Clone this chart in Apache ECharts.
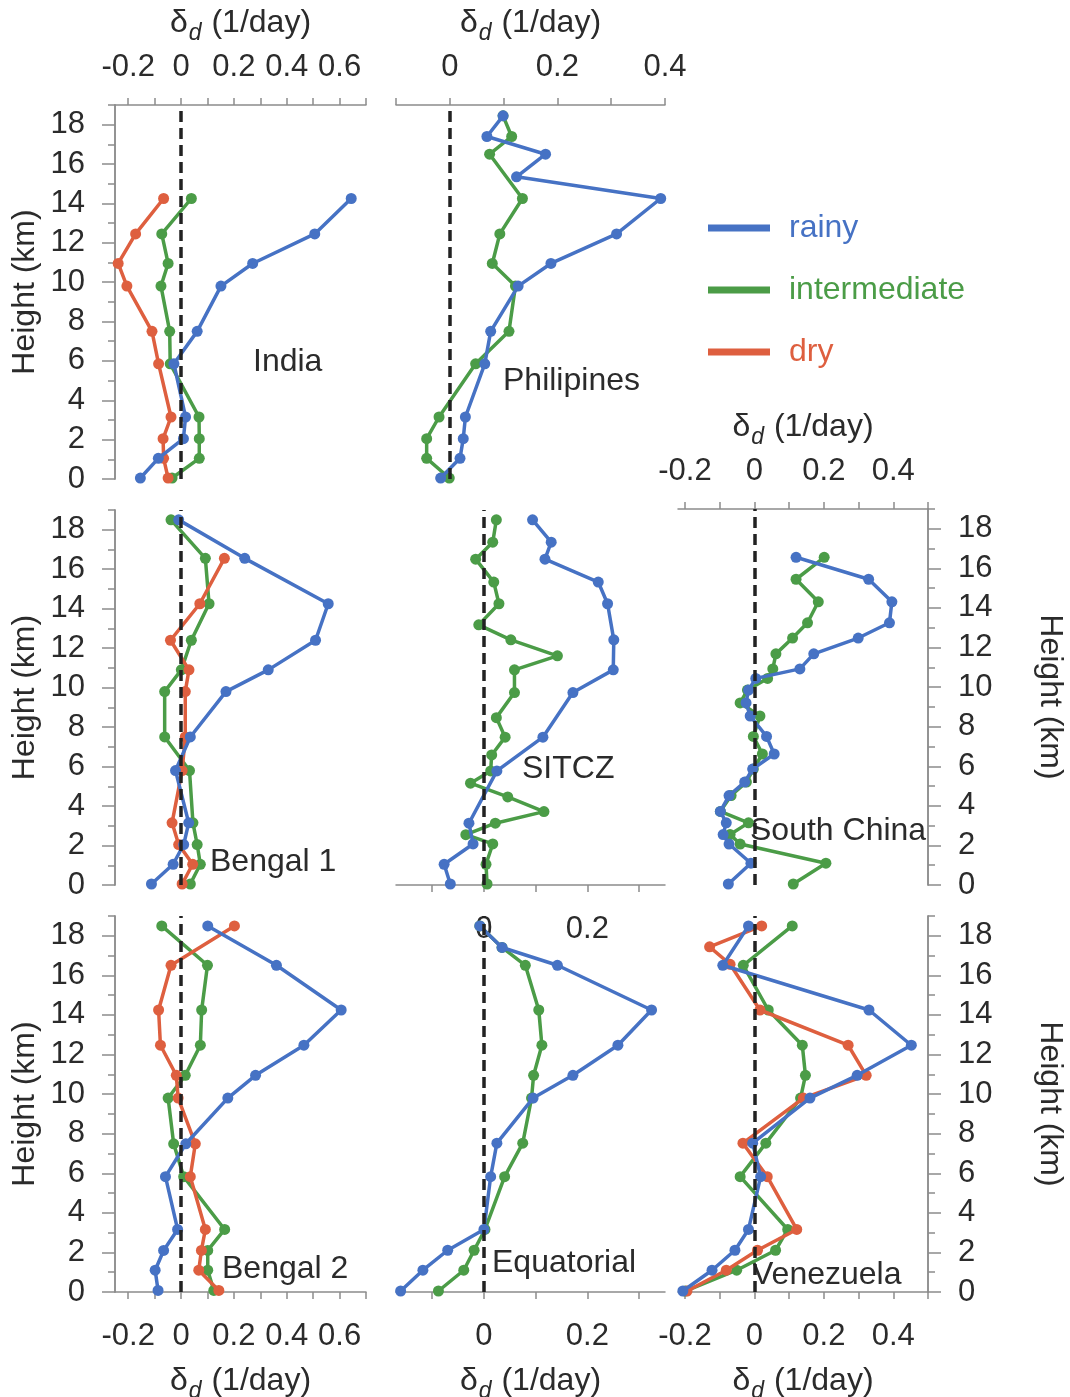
<!DOCTYPE html>
<html>
<head>
<meta charset="utf-8">
<script src="https://cdn.jsdelivr.net/npm/echarts@6/dist/echarts.min.js"></script>
<style>
  html, body { margin: 0; padding: 0; background: #fff; }
  #main { width: 1070px; height: 1397px; }
</style>
</head>
<body>
<div id="main"></div>
<script>
  // ---- data: heights in km, delta_d in 1/day ----
  const indiaH       = [0.05, 1.05, 2.05, 3.15, 5.85, 7.5, 9.8, 10.95, 12.45, 14.25];
  const indiaRainy   = [-0.154, -0.086, 0.009, 0.017, -0.027, 0.061, 0.151, 0.271, 0.506, 0.644];
  const indiaInter   = [-0.034, 0.069, 0.069, 0.068, -0.041, -0.043, -0.076, -0.049, -0.073, 0.039];
  const indiaDry     = [-0.049, -0.066, -0.068, -0.038, -0.085, -0.11, -0.205, -0.238, -0.172, -0.066];

  const philRainyH   = [0.05, 1.05, 2.05, 3.15, 5.85, 7.5, 9.8, 10.95, 12.45, 14.25, 15.35, 16.5, 17.4, 18.45];
  const philRainy    = [-0.017, 0.019, 0.025, 0.029, 0.065, 0.076, 0.127, 0.188, 0.31, 0.392, 0.124, 0.178, 0.069, 0.099];
  const philInterH   = [0.05, 1.05, 2.05, 3.15, 5.85, 7.5, 9.8, 10.95, 12.45, 14.25, 16.5, 17.4, 18.45];
  const philInter    = [-0.001, -0.043, -0.043, -0.02, 0.048, 0.11, 0.122, 0.079, 0.093, 0.135, 0.074, 0.115, 0.099];

  const beng1H       = [0.05, 1.05, 2.05, 3.15, 5.8, 7.5, 9.8, 10.9, 12.4, 14.25, 16.55, 18.5];
  const beng1Rainy   = [-0.112, -0.03, 0.01, 0.029, -0.021, 0.035, 0.17, 0.33, 0.509, 0.557, 0.241, -0.009];
  const beng1Inter   = [0.035, 0.073, 0.061, 0.045, 0.032, -0.062, -0.062, 0.001, 0.039, 0.106, 0.092, -0.038];
  const beng1DryH    = [0.05, 1.05, 2.05, 3.15, 5.8, 7.5, 9.8, 10.9, 12.4, 14.25, 16.55];
  const beng1Dry     = [0.004, 0.044, -0.009, -0.034, 0.004, 0.016, 0.016, 0.03, -0.04, 0.071, 0.164];

  const sitczRainyH  = [0.05, 1.05, 2.08, 3.13, 5.78, 7.49, 9.75, 10.9, 12.42, 14.25, 15.35, 16.51, 17.37, 18.5];
  const sitczRainy   = [-0.065, -0.077, -0.021, -0.029, 0.025, 0.114, 0.172, 0.25, 0.251, 0.239, 0.221, 0.118, 0.13, 0.094];
  const sitczInterH  = [0.05, 1.05, 2.08, 2.55, 3.13, 3.72, 4.46, 5.16, 5.78, 6.59, 7.49, 8.48, 9.75, 10.9, 11.61, 12.42, 13.18, 14.25, 15.35, 16.51, 17.37, 18.5];
  const sitczInter   = [0.006, 0.004, 0.017, -0.035, 0.022, 0.116, 0.046, -0.026, 0.013, 0.015, 0.041, 0.024, 0.059, 0.059, 0.142, 0.052, -0.01, 0.029, 0.019, -0.016, 0.017, 0.024];

  const schinaH      = [0.05, 1.1, 2.07, 2.55, 3.14, 3.72, 4.52, 5.2, 5.86, 6.62, 7.51, 8.54, 9.2, 9.85, 10.44, 10.92, 11.68, 12.48, 13.25, 14.31, 15.45, 16.56];
  const schinaRainy  = [-0.075, -0.01, -0.073, -0.09, -0.081, -0.098, -0.073, -0.028, -0.005, 0.057, 0.035, -0.012, -0.024, -0.017, 0.004, 0.131, 0.171, 0.299, 0.389, 0.396, 0.329, 0.12];
  const schinaInter  = [0.112, 0.206, -0.041, -0.07, -0.017, -0.098, -0.067, -0.023, -0.003, 0.023, -0.003, 0.016, -0.041, -0.02, 0.038, 0.053, 0.062, 0.11, 0.153, 0.184, 0.12, 0.201];

  const beng2H       = [0.08, 1.1, 2.1, 3.16, 5.83, 7.49, 9.8, 10.95, 12.47, 14.25, 16.51, 18.5];
  const beng2Rainy   = [-0.087, -0.098, -0.066, -0.013, -0.059, 0.018, 0.177, 0.282, 0.465, 0.606, 0.361, 0.101];
  const beng2Inter   = [0.124, 0.101, 0.101, 0.165, 0.01, -0.028, -0.049, 0.016, 0.073, 0.078, 0.1, -0.073];
  const beng2Dry     = [0.143, 0.067, 0.077, 0.092, 0.035, 0.054, -0.011, -0.018, -0.078, -0.085, -0.038, 0.202];

  const equatH       = [0.05, 1.1, 2.11, 3.16, 5.83, 7.52, 9.8, 10.95, 12.47, 14.25, 16.51, 17.41, 18.5];
  const equatRainy   = [-0.161, -0.118, -0.07, 0.0, 0.013, 0.025, 0.095, 0.172, 0.259, 0.324, 0.142, 0.035, -0.008];
  const equatInter   = [-0.088, -0.039, -0.019, 0.002, 0.04, 0.075, 0.092, 0.096, 0.112, 0.106, 0.08, 0.035, -0.008];

  const venezH       = [0.05, 1.1, 2.11, 3.16, 5.83, 7.52, 9.8, 10.95, 12.47, 14.25, 16.51, 18.5];
  const venezRainy   = [-0.206, -0.122, -0.056, -0.017, 0.018, -0.005, 0.16, 0.296, 0.452, 0.33, -0.091, -0.017];
  const venezInter   = [-0.199, -0.051, 0.061, 0.096, -0.041, 0.033, 0.133, 0.147, 0.138, 0.04, -0.032, 0.109];
  const venezDryH    = [0.05, 1.1, 2.11, 3.16, 5.83, 7.52, 9.8, 10.95, 12.47, 14.25, 16.56, 17.44, 18.5];
  const venezDry     = [-0.194, -0.081, 0.009, 0.122, 0.037, -0.033, 0.141, 0.322, 0.27, 0.016, -0.07, -0.129, 0.021];

  // tick values / labels
  const yMajor = [0, 2, 4, 6, 8, 10, 12, 14, 16, 18];
  const yMinor = [1, 3, 5, 7, 9, 11, 13, 15, 17, 19];
  const xTicksWide  = [-0.2, -0.1, 0, 0.1, 0.2, 0.3, 0.4, 0.5, 0.6, 0.7];
  const xLabelsWide = [-0.2, 0, 0.2, 0.4, 0.6];
  const xTicksPhil  = [-0.1, 0, 0.1, 0.2, 0.3, 0.4];
  const xLabelsPhil = [0, 0.2, 0.4];
  const xTicksMid   = [-0.1, 0, 0.1, 0.2, 0.3];
  const xLabelsMid  = [0, 0.2];
  const xTicksRight  = [-0.2, -0.1, 0, 0.1, 0.2, 0.3, 0.4, 0.5];
  const xLabelsRight = [-0.2, 0, 0.2, 0.4];

  // ---- styling ----
  const FONT = '"Liberation Sans", Arial, Helvetica, sans-serif';
  const TXT = '#2b2b2b';
  const AX = '#8c8c8c';
  const COL = {rainy: '#4672C4', intermediate: '#4B9C47', dry: '#DE5F3F'};

  const deltaName = '{g|δ}{s|d}{t| (1/day)}';
  const deltaStyle = {
    fontFamily: FONT, color: TXT, fontSize: 32,
    rich: {
      g: {fontSize: 32, fontFamily: FONT, color: TXT},
      s: {fontSize: 23, fontStyle: 'italic', fontFamily: FONT, color: TXT, padding: [20, 1, 0, 1]},
      t: {fontSize: 32, fontFamily: FONT, color: TXT}
    }
  };

  const grids = [
    {left: 115, top: 105, width: 251, height: 374},  // India
    {left: 396, top: 105, width: 269, height: 374},  // Philipines
    {left: 115, top: 510, width: 251, height: 375},  // Bengal 1
    {left: 396, top: 510, width: 269, height: 375},  // SITCZ
    {left: 678, top: 509, width: 250, height: 376},  // South China
    {left: 115, top: 916, width: 251, height: 376},  // Bengal 2
    {left: 396, top: 916, width: 269, height: 376},  // Equatorial
    {left: 678, top: 916, width: 250, height: 376}   // Venezuela
  ].map(g => Object.assign({outerBoundsMode: 'none', containLabel: false}, g));

  const xAxes = [];
  const yAxes = [];

  function addX(gi, min, max, o) {
    const top = o.pos === 'top';
    xAxes.push({
      type: 'value', gridIndex: gi, min: min, max: max,
      show: o.show !== false,
      position: o.pos || 'bottom',
      axisLine: {show: true, onZero: false, lineStyle: {color: AX, width: 1.5}},
      axisTick: {show: true, length: 7, customValues: o.ticks, lineStyle: {color: AX, width: 1.5}},
      axisLabel: {show: !!o.labels, customValues: o.labels, margin: top ? 22 : 29, fontSize: 31, color: TXT, fontFamily: FONT},
      splitLine: {show: false},
      name: o.name ? deltaName : '',
      nameLocation: 'middle',
      nameGap: top ? 60 : 68,
      nameTextStyle: deltaStyle
    });
    return xAxes.length - 1;
  }

  function addY(gi, o) {
    const base = {
      type: 'value', gridIndex: gi, min: 0, max: 19,
      show: o.show !== false,
      position: o.pos || 'left',
      splitLine: {show: false},
      axisLine: {show: true, onZero: false, lineStyle: {color: AX, width: 1.5}}
    };
    yAxes.push(Object.assign({}, base, {
      axisTick: {show: true, length: 13, customValues: yMajor, lineStyle: {color: AX, width: 1.5}},
      axisLabel: {show: true, customValues: yMajor, margin: 30, fontSize: 31, color: TXT, fontFamily: FONT},
      name: o.show === false ? '' : 'Height (km)',
      nameLocation: 'middle',
      nameGap: o.pos === 'right' ? 106 : 74,
      nameRotate: o.pos === 'right' ? -90 : 90,
      nameTextStyle: {fontSize: 32, color: TXT, fontFamily: FONT}
    }));
    const major = yAxes.length - 1;
    if (o.show !== false) {
      yAxes.push(Object.assign({}, base, {
        axisTick: {show: true, length: 7, customValues: yMinor, lineStyle: {color: AX, width: 1.5}},
        axisLabel: {show: false}
      }));
    }
    return major;
  }

  const series = [];

  function zeroLine(xi, yi) {
    series.push({
      type: 'line', xAxisIndex: xi, yAxisIndex: yi, data: [], silent: true, z: 1,
      markLine: {
        silent: true, symbol: 'none', animation: false, label: {show: false},
        lineStyle: {type: [11, 6], width: 3.5, color: '#222'},
        data: [{xAxis: 0}]
      }
    });
  }

  function prof(name, hs, vs, xi, yi, z) {
    series.push({
      name: name, type: 'line', xAxisIndex: xi, yAxisIndex: yi,
      data: hs.map((h, i) => [vs[i], h]),
      symbol: 'circle', symbolSize: 11, showSymbol: true,
      lineStyle: {width: 3.5, color: COL[name]},
      itemStyle: {color: COL[name]},
      z: z, animation: false
    });
  }

  function panel(xi, yi, rainy, inter, dry) {
    zeroLine(xi, yi);
    if (inter) prof('intermediate', inter[0], inter[1], xi, yi, 2);
    if (dry) prof('dry', dry[0], dry[1], xi, yi, 3);
    prof('rainy', rainy[0], rainy[1], xi, yi, 4);
  }

  // India
  let xi = addX(0, -0.25, 0.7, {pos: 'top', ticks: xTicksWide, labels: xLabelsWide, name: true});
  let yi = addY(0, {pos: 'left'});
  panel(xi, yi, [indiaH, indiaRainy], [indiaH, indiaInter], [indiaH, indiaDry]);
  // Philipines
  xi = addX(1, -0.1, 0.4, {pos: 'top', ticks: xTicksPhil, labels: xLabelsPhil, name: true});
  yi = addY(1, {show: false});
  panel(xi, yi, [philRainyH, philRainy], [philInterH, philInter]);
  // Bengal 1
  xi = addX(2, -0.25, 0.7, {show: false});
  yi = addY(2, {pos: 'left'});
  panel(xi, yi, [beng1H, beng1Rainy], [beng1H, beng1Inter], [beng1DryH, beng1Dry]);
  // SITCZ
  xi = addX(3, -0.17, 0.35, {pos: 'bottom', ticks: xTicksMid, labels: xLabelsMid});
  yi = addY(3, {show: false});
  panel(xi, yi, [sitczRainyH, sitczRainy], [sitczInterH, sitczInter]);
  // South China
  xi = addX(4, -0.22, 0.5, {pos: 'top', ticks: xTicksRight, labels: xLabelsRight, name: true});
  yi = addY(4, {pos: 'right'});
  panel(xi, yi, [schinaH, schinaRainy], [schinaH, schinaInter]);
  // Bengal 2
  xi = addX(5, -0.25, 0.7, {pos: 'bottom', ticks: xTicksWide, labels: xLabelsWide, name: true});
  yi = addY(5, {pos: 'left'});
  panel(xi, yi, [beng2H, beng2Rainy], [beng2H, beng2Inter], [beng2H, beng2Dry]);
  // Equatorial
  xi = addX(6, -0.17, 0.35, {pos: 'bottom', ticks: xTicksMid, labels: xLabelsMid, name: true});
  yi = addY(6, {show: false});
  panel(xi, yi, [equatH, equatRainy], [equatH, equatInter]);
  // Venezuela
  xi = addX(7, -0.22, 0.5, {pos: 'bottom', ticks: xTicksRight, labels: xLabelsRight, name: true});
  yi = addY(7, {pos: 'right'});
  panel(xi, yi, [venezH, venezRainy], [venezH, venezInter], [venezDryH, venezDry]);

  const labelText = (x, y, t) => ({
    type: 'text', x: x, y: y, silent: true,
    style: {text: t, font: '32px ' + FONT, fill: TXT, verticalAlign: 'middle'}
  });

  const myChart = echarts.init(document.getElementById('main'));
  myChart.setOption({
    backgroundColor: '#fff',
    animation: false,
    grid: grids,
    xAxis: xAxes,
    yAxis: yAxes,
    legend: {
      data: [
        {name: 'rainy', textStyle: {color: COL.rainy}},
        {name: 'intermediate', textStyle: {color: COL.intermediate}},
        {name: 'dry', textStyle: {color: COL.dry}}
      ],
      orient: 'vertical', left: 708, top: 212, padding: 0,
      icon: 'rect', itemWidth: 62, itemHeight: 7, itemGap: 30,
      selectedMode: false,
      textStyle: {fontSize: 32, fontFamily: FONT, lineHeight: 32, padding: [0, 0, 0, 14]}
    },
    graphic: [
      labelText(253, 362, 'India'),
      labelText(503, 381, 'Philipines'),
      labelText(210, 862, 'Bengal 1'),
      labelText(522, 769, 'SITCZ'),
      labelText(750, 831, 'South China'),
      labelText(222, 1269, 'Bengal 2'),
      labelText(492, 1263, 'Equatorial'),
      labelText(752, 1275, 'Venezuela')
    ],
    series: series
  });
</script>
</body>
</html>
